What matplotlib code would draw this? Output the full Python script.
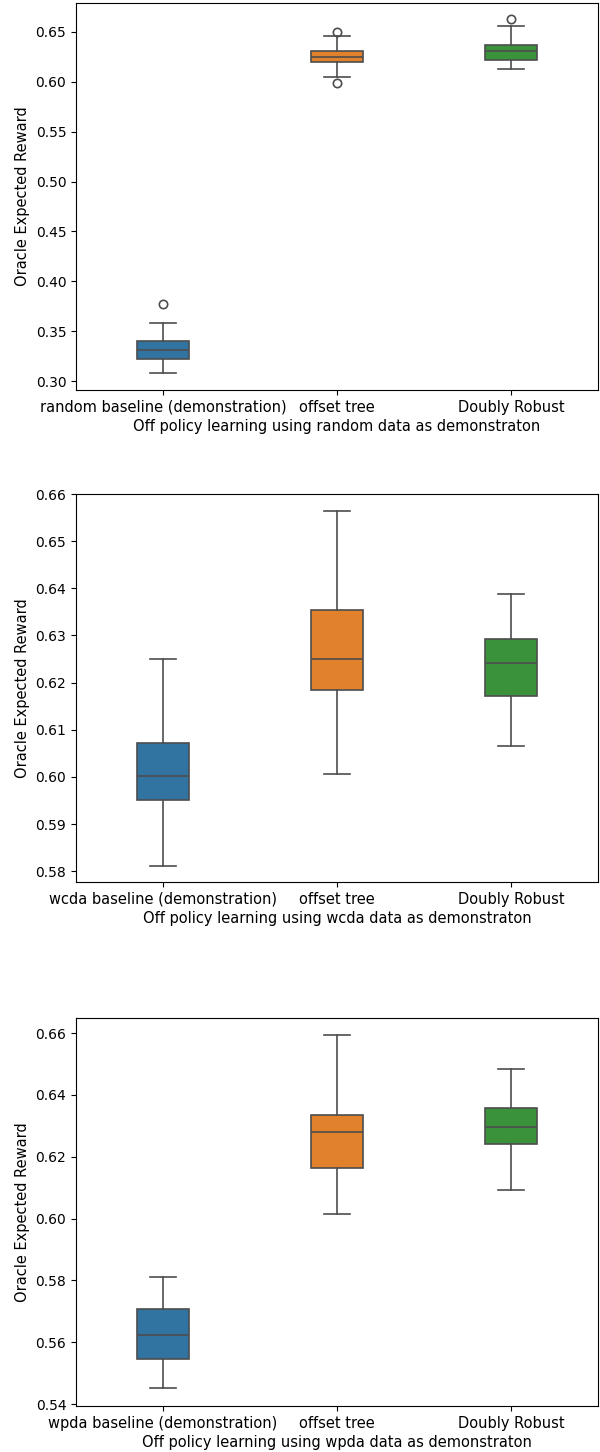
import matplotlib
matplotlib.use("Agg")
import matplotlib.pyplot as plt

# box statistics (whislo, q1, med, q3, whishi, fliers)
methods = ["baseline (demonstration)", "offset tree", "Doubly Robust"]
datasets = ["random", "wcda", "wpda"]

random_stats = [
    [0.3083, 0.3220, 0.3307, 0.3398, 0.3578],
    [0.6052, 0.6199, 0.6252, 0.6313, 0.6463],
    [0.6125, 0.6219, 0.6306, 0.6366, 0.6560],
]
random_fliers = [[0.3769], [0.5985, 0.6503], [0.6634]]

wcda_stats = [
    [0.5811, 0.5950, 0.6002, 0.6071, 0.6250],
    [0.6007, 0.6185, 0.6250, 0.6354, 0.6564],
    [0.6065, 0.6172, 0.6242, 0.6293, 0.6387],
]
wcda_fliers = [[], [], []]

wpda_stats = [
    [0.5451, 0.5546, 0.5624, 0.5707, 0.5812],
    [0.6016, 0.6164, 0.6280, 0.6335, 0.6595],
    [0.6093, 0.6243, 0.6298, 0.6358, 0.6485],
]
wpda_fliers = [[], [], []]

ylims = [(0.291, 0.679), (0.5777, 0.66), (0.5394, 0.6649)]
yticks = [
    [0.30, 0.35, 0.40, 0.45, 0.50, 0.55, 0.60, 0.65],
    [0.58, 0.59, 0.60, 0.61, 0.62, 0.63, 0.64, 0.65, 0.66],
    [0.54, 0.56, 0.58, 0.60, 0.62, 0.64, 0.66],
]

colors = ["#3274a1", "#e1812c", "#3a923a"]
gray = "#4d4d4d"

W, H = 600, 1452
fig = plt.figure(figsize=(W / 100, H / 100), dpi=100)

# axes boxes in pixels: (left, top, right, bottom)
boxes = [(76, 3, 598, 390), (76, 494, 598, 882), (76, 1018, 598, 1406)]

all_stats = [random_stats, wcda_stats, wpda_stats]
all_fliers = [random_fliers, wcda_fliers, wpda_fliers]

for k in range(3):
    l, t, r, b = boxes[k]
    ax = fig.add_axes([l / W, (H - b) / H, (r - l) / W, (b - t) / H])

    bstats = []
    for i in range(3):
        s = all_stats[k][i]
        bstats.append({"whislo": s[0], "q1": s[1], "med": s[2], "q3": s[3],
                       "whishi": s[4], "fliers": all_fliers[k][i]})

    art = ax.bxp(bstats, positions=[0, 1, 2], widths=0.3, patch_artist=True,
                 boxprops=dict(edgecolor=gray, linewidth=1.2),
                 medianprops=dict(color=gray, linewidth=1.2),
                 whiskerprops=dict(color=gray, linewidth=1.2),
                 capprops=dict(color=gray, linewidth=1.2),
                 flierprops=dict(marker="o", markerfacecolor="none",
                                 markeredgecolor=gray, markersize=6,
                                 markeredgewidth=1.2))
    for patch, c in zip(art["boxes"], colors):
        patch.set_facecolor(c)

    ax.set_xlim(-0.5, 2.5)
    ax.set_ylim(*ylims[k])
    ax.set_yticks(yticks[k])
    ax.set_yticklabels(["%.2f" % v for v in yticks[k]], fontsize=10)
    ax.set_xticks([0, 1, 2])
    labels = [datasets[k] + " " + methods[0], methods[1], methods[2]]
    ax.set_xticklabels(labels, fontsize=10.5)
    ax.set_ylabel("Oracle Expected Reward", fontsize=10.5)
    ax.set_xlabel("Off policy learning using " + datasets[k] + " data as demonstraton",
                  fontsize=10.5, labelpad=3)

fig.savefig("out.png", dpi=100)
